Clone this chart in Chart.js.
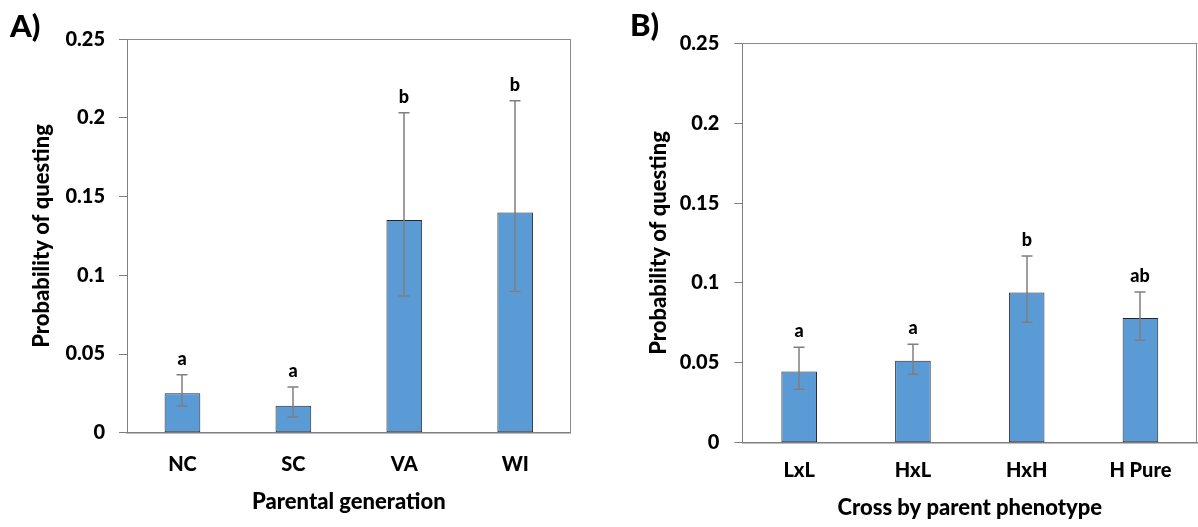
<!DOCTYPE html>
<html>
<head>
<meta charset="utf-8">
<script src="https://cdn.jsdelivr.net/npm/chart.js@4.4.1/dist/chart.umd.min.js"></script>
<style>
  body { margin: 0; background: #fff; }
  #wrap { position: relative; width: 1198px; height: 527px; }
  canvas { position: absolute; top: 0; }
  #chartA { left: 0; }
  #chartB { left: 600px; }
</style>
</head>
<body>
<div id="wrap">
  <canvas id="chartA" width="600" height="527"></canvas>
  <canvas id="chartB" width="598" height="527"></canvas>
</div>
<script>
// Panel A - parental generation
const parentalLabels = ['NC', 'SC', 'VA', 'WI'];
const parentalMeans = [0.025, 0.0172, 0.1351, 0.1400];
const parentalUpper = [0.0368, 0.0290, 0.2033, 0.2110];
const parentalLower = [0.0170, 0.0100, 0.0869, 0.0898];
const parentalLetters = ['a', 'a', 'b', 'b'];

// Panel B - cross by parent phenotype
const crossLabels = ['LxL', 'HxL', 'HxH', 'H Pure'];
const crossMeans = [0.0446, 0.0513, 0.0940, 0.0781];
const crossUpper = [0.0598, 0.0617, 0.1169, 0.0944];
const crossLower = [0.0334, 0.0428, 0.0754, 0.0642];
const crossLetters = ['a', 'a', 'b', 'ab'];

const yTicks = [0, 0.05, 0.1, 0.15, 0.2, 0.25];

const W = '900';
Chart.defaults.font.family = 'Lato, "Noto Sans", sans-serif';
Chart.defaults.font.weight = W;
Chart.defaults.color = '#000';

// error bars, significance letters, plot frame and panel letter
const extrasPlugin = {
    id: 'extras',
    afterDatasetsDraw(chart, args, opts) {
        const { ctx, chartArea: a } = chart;
        const y = chart.scales.y;
        const meta = chart.getDatasetMeta(0);
        ctx.save();
        ctx.strokeStyle = '#8a8a8a';
        ctx.lineWidth = 1;
        ctx.beginPath();
        ctx.moveTo(a.left, Math.round(a.top) + 0.5);
        ctx.lineTo(a.right, Math.round(a.top) + 0.5);
        ctx.moveTo(Math.round(a.right) - 0.5, a.top);
        ctx.lineTo(Math.round(a.right) - 0.5, a.bottom);
        ctx.stroke();

        ctx.strokeStyle = '#7f7f7f';
        ctx.lineWidth = 1.5;
        meta.data.forEach((bar, i) => {
            const x = Math.round(bar.x);
            const yHi = y.getPixelForValue(opts.upper[i]);
            const yLo = y.getPixelForValue(opts.lower[i]);
            ctx.beginPath();
            ctx.moveTo(x, yHi); ctx.lineTo(x, yLo);
            ctx.moveTo(x - 5.5, yHi); ctx.lineTo(x + 5.5, yHi);
            ctx.moveTo(x - 5.5, yLo); ctx.lineTo(x + 5.5, yLo);
            ctx.stroke();
            ctx.fillStyle = '#000';
            ctx.font = W + ' 18px Lato';
            ctx.textAlign = 'center';
            ctx.textBaseline = 'alphabetic';
            ctx.fillText(opts.letters[i], x, yHi - 10);
        });

        ctx.font = W + ' 31px Lato';
        ctx.textAlign = 'left';
        ctx.fillStyle = '#000';
        ctx.fillText(opts.panel, opts.panelX, opts.panelY);
        ctx.restore();
    }
};

function makePanel(id, labels, means, upper, lower, letters, g) {
    const ctx = document.getElementById(id).getContext('2d');
    return new Chart(ctx, {
        type: 'bar',
        data: {
            labels: labels,
            datasets: [{
                data: means,
                backgroundColor: '#5b9bd5',
                borderColor: '#262626',
                borderWidth: 1,
                borderSkipped: false,
                barPercentage: g.barPct,
                categoryPercentage: 1
            }]
        },
        options: {
            responsive: false,
            animation: false,
            devicePixelRatio: 1,
            layout: { padding: { left: 0, top: g.top, right: g.right, bottom: 0 } },
            scales: {
                y: {
                    min: 0,
                    max: 0.25,
                    afterFit: s => { s.width = g.yWidth; },
                    afterBuildTicks: s => { s.ticks = yTicks.map(v => ({ value: v })); },
                    ticks: {
                        padding: g.yTickPad,
                        font: { size: 20, weight: W },
                        color: '#000',
                        callback: v => String(+v.toFixed(2))
                    },
                    grid: { drawOnChartArea: false, drawTicks: true, tickLength: 8, color: '#7f7f7f' },
                    border: { display: true, color: '#7f7f7f', width: 1 },
                    title: {
                        display: true,
                        text: 'Probability of questing',
                        font: { size: 22, weight: W },
                        color: '#000',
                        padding: { top: g.yTitlePad, bottom: 0 }
                    }
                },
                x: {
                    afterFit: s => { s.height = g.xHeight; },
                    ticks: { padding: g.xTickPad, font: { size: 20, weight: W }, color: '#000', maxRotation: 0 },
                    grid: { display: true, drawOnChartArea: false, drawTicks: false },
                    border: { display: true, color: '#7f7f7f', width: 1.5 },
                    title: {
                        display: true,
                        text: g.xTitle,
                        font: { size: 22, weight: W },
                        color: '#000',
                        padding: { top: 0, bottom: g.xTitlePad }
                    }
                }
            },
            plugins: {
                legend: { display: false },
                tooltip: { enabled: false },
                extras: { upper: upper, lower: lower, letters: letters, panel: g.panel, panelX: g.panelX, panelY: g.panelY }
            }
        },
        plugins: [extrasPlugin]
    });
}

makePanel('chartA', parentalLabels, parentalMeans, parentalUpper, parentalLower, parentalLetters, {
    top: 39.3, right: 29.3, yWidth: 127, xHeight: 94.3,
    yTickPad: 14, yTitlePad: 29, xTickPad: 20, xTitlePad: 12,
    barPct: 0.322, xTitle: 'Parental generation',
    panel: 'A)', panelX: 10, panelY: 37
});

makePanel('chartB', crossLabels, crossMeans, crossUpper, crossLower, crossLetters, {
    top: 43.3, right: 0.7, yWidth: 142.3, xHeight: 84.3,
    yTickPad: 15, yTitlePad: 46, xTickPad: 16, xTitlePad: 6,
    barPct: 0.313, xTitle: 'Cross by parent phenotype',
    panel: 'B)', panelX: 30, panelY: 36
});
</script>
</body>
</html>
